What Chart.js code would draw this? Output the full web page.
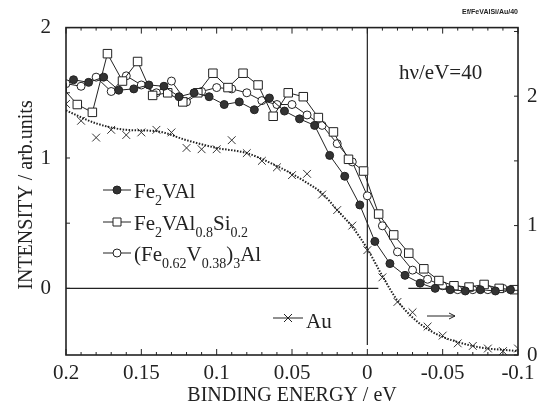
<!DOCTYPE html>
<html>
<head>
<meta charset="utf-8">
<script src="https://cdn.jsdelivr.net/npm/chart.js@4/dist/chart.umd.min.js"></script>
<style>
  html, body { margin: 0; padding: 0; background: #fff; }
  #wrap { width: 543px; height: 408px; }
</style>
</head>
<body>
<div id="wrap"><canvas id="pes"></canvas></div>
<script>
// Energias (eV) e intensidades de cada amostra
const energyFe2VAl = [0.195, 0.185, 0.175, 0.165, 0.155, 0.145, 0.135, 0.125, 0.115, 0.105,
  0.095, 0.085, 0.075, 0.065, 0.055, 0.045, 0.035, 0.025, 0.015, 0.005,
  -0.005, -0.015, -0.025, -0.035, -0.045, -0.055, -0.065, -0.075, -0.085, -0.095];
const intensityFe2VAl = [1.60, 1.58, 1.62, 1.52, 1.53, 1.56, 1.55, 1.47, 1.50, 1.47,
  1.41, 1.43, 1.37, 1.46, 1.36, 1.30, 1.25, 1.02, 0.86, 0.64,
  0.36, 0.19, 0.10, 0.04, 0.00, -0.01, -0.02, -0.01, -0.02, -0.01];

const energySi = [0.2025, 0.1925, 0.1825, 0.1725, 0.1625, 0.1525, 0.1425, 0.1325, 0.1225, 0.1125,
  0.1025, 0.0925, 0.0825, 0.0725, 0.0625, 0.0525, 0.0425, 0.0325, 0.0225, 0.0125,
  0.0025, -0.0075, -0.0175, -0.0275, -0.0375, -0.0475, -0.0575, -0.0675, -0.0775, -0.0875, -0.0975];
const intensitySi = [1.54, 1.41, 1.35, 1.80, 1.59, 1.74, 1.48, 1.50, 1.43, 1.50,
  1.65, 1.54, 1.65, 1.56, 1.32, 1.50, 1.47, 1.31, 1.20, 0.99,
  0.90, 0.57, 0.41, 0.27, 0.15, 0.06, 0.02, 0.01, 0.03, 0.00, -0.01];

const energyStep = [0.20, 0.19, 0.18, 0.17, 0.16, 0.15, 0.14, 0.13, 0.12, 0.11,
  0.10, 0.09, 0.08, 0.07, 0.06, 0.05, 0.04, 0.03, 0.02, 0.01,
  0.00, -0.01, -0.02, -0.03, -0.04, -0.05, -0.06, -0.07, -0.08, -0.09, -0.10];
const intensityFe3Al = [1.57, 1.55, 1.62, 1.51, 1.63, 1.56, 1.50, 1.59, 1.43, 1.51,
  1.54, 1.53, 1.50, 1.44, 1.41, 1.41, 1.33, 1.25, 1.11, 0.97,
  0.71, 0.48, 0.28, 0.14, 0.07, 0.02, -0.01, -0.01, -0.01, 0.00, -0.01];

// Au (eixo da direita): pontos medidos e curva ajustada
const intensityAu = [1.94, 1.81, 1.68, 1.74, 1.70, 1.72, 1.74, 1.72, 1.60, 1.59,
  1.59, 1.66, 1.56, 1.50, 1.45, 1.39, 1.40, 1.24, 1.12, 1.00,
  0.81, 0.60, 0.41, 0.33, 0.22, 0.15, 0.09, 0.07, 0.05, 0.03, 0.05];
const energyAuFit = [0.20, 0.18, 0.16, 0.14, 0.12, 0.10, 0.08, 0.06, 0.05, 0.04, 0.03, 0.02,
  0.01, 0.00, -0.01, -0.02, -0.03, -0.04, -0.05, -0.06, -0.07, -0.08, -0.09, -0.10];
const intensityAuFit = [1.89, 1.79, 1.74, 1.73, 1.66, 1.60, 1.56, 1.46, 1.40, 1.33, 1.25, 1.12,
  0.99, 0.82, 0.61, 0.42, 0.29, 0.20, 0.14, 0.10, 0.07, 0.05, 0.04, 0.03];

// Rótulos dos eixos
const xTicks = [0.2, 0.15, 0.1, 0.05, 0, -0.05, -0.1];
const xTickLabels = ['0.2', '0.15', '0.1', '0.05', '0', '-0.05', '-0.1'];
const leftTicks = [0, 1, 2];
const rightTicks = [0, 1, 2];

const INK = '#222';
const SERIF = '"Liberation Serif", "DejaVu Serif", serif';

function pts(xs, ys) {
  return xs.map((x, i) => ({ x: x, y: ys[i] }));
}

// Texto com índices (subscritos)
function drawFormula(ctx, parts, x, y) {
  ctx.textAlign = 'left';
  ctx.textBaseline = 'alphabetic';
  parts.forEach(([txt, sub]) => {
    ctx.font = (sub ? '14px ' : '21px ') + SERIF;
    ctx.fillText(txt, x, sub ? y + 7 : y);
    x += ctx.measureText(txt).width;
  });
}

function marker(ctx, kind, x, y) {
  ctx.lineWidth = 1;
  ctx.strokeStyle = INK;
  ctx.beginPath();
  if (kind === 'filled') {
    ctx.arc(x, y, 4, 0, Math.PI * 2);
    ctx.fillStyle = '#333';
    ctx.fill();
  } else if (kind === 'square') {
    ctx.rect(x - 4, y - 4, 8, 8);
    ctx.fillStyle = '#fff';
    ctx.fill();
  } else if (kind === 'open') {
    ctx.arc(x, y, 4, 0, Math.PI * 2);
    ctx.fillStyle = '#fff';
    ctx.fill();
  } else if (kind === 'cross') {
    ctx.moveTo(x - 4, y - 4); ctx.lineTo(x + 4, y + 4);
    ctx.moveTo(x + 4, y - 4); ctx.lineTo(x - 4, y + 4);
  }
  ctx.stroke();
}

// Linhas de referência, moldura, marcas e anotações
const decor = {
  id: 'decor',
  beforeDatasetsDraw(chart) {
    const { ctx, chartArea: a, scales } = chart;
    const x0 = scales.x.getPixelForValue(0);
    const y0 = scales.y.getPixelForValue(0);
    ctx.save();
    ctx.strokeStyle = INK;
    ctx.lineWidth = 1.2;
    ctx.beginPath();
    ctx.moveTo(x0, a.top); ctx.lineTo(x0, a.bottom - 10);
    ctx.moveTo(a.left, y0); ctx.lineTo(x0 + 11, y0);
    ctx.moveTo(x0 + 41, y0); ctx.lineTo(a.right, y0);
    ctx.stroke();
    ctx.restore();
  },
  afterDraw(chart) {
    const { ctx, chartArea: a, scales } = chart;
    ctx.save();
    ctx.strokeStyle = INK;
    ctx.lineWidth = 1.6;
    ctx.strokeRect(a.left, a.top, a.right - a.left, a.bottom - a.top);

    // marcas internas
    ctx.lineWidth = 1;
    ctx.beginPath();
    for (let i = -10; i <= 20; i++) {
      const px = scales.x.getPixelForValue(i / 100);
      const len = i % 5 === 0 ? 6 : 3;
      ctx.moveTo(px, a.bottom); ctx.lineTo(px, a.bottom - len);
      ctx.moveTo(px, a.top); ctx.lineTo(px, a.top + len);
    }
    for (let v = 0; v <= 2; v += 0.5) {
      const py = scales.y.getPixelForValue(v);
      ctx.moveTo(a.left, py); ctx.lineTo(a.left + 4, py);
    }
    for (let v = 0; v <= 2.5; v += 0.5) {
      const py = scales.y2.getPixelForValue(v);
      ctx.moveTo(a.right, py); ctx.lineTo(a.right - 4, py);
    }
    ctx.stroke();

    // título do eixo vertical
    ctx.fillStyle = INK;
    ctx.save();
    ctx.translate(27, 195);
    ctx.rotate(-Math.PI / 2);
    ctx.font = '20px ' + SERIF;
    ctx.textAlign = 'center';
    ctx.textBaseline = 'middle';
    ctx.fillText('INTENSITY / arb.units', 0, 0);
    ctx.restore();

    // legenda
    const rows = [
      { kind: 'filled', y: 190, parts: [['Fe'], ['2', 1], ['VAl']] },
      { kind: 'square', y: 222, parts: [['Fe'], ['2', 1], ['VAl'], ['0.8', 1], ['Si'], ['0.2', 1]] },
      { kind: 'open', y: 253, parts: [['(Fe'], ['0.62', 1], ['V'], ['0.38', 1], [')'], ['3', 1], ['Al']] }
    ];
    rows.forEach(r => {
      ctx.strokeStyle = INK;
      ctx.beginPath();
      ctx.moveTo(103, r.y); ctx.lineTo(131, r.y);
      ctx.stroke();
      marker(ctx, r.kind, 117, r.y);
      ctx.fillStyle = INK;
      drawFormula(ctx, r.parts, 134, r.y + 8);
    });

    // Au
    ctx.beginPath();
    ctx.moveTo(273, 318); ctx.lineTo(303, 318);
    ctx.stroke();
    marker(ctx, 'cross', 288, 318);
    ctx.fillStyle = INK;
    drawFormula(ctx, [['Au']], 306, 328);

    // seta para o eixo da direita
    ctx.beginPath();
    ctx.moveTo(427, 316); ctx.lineTo(455, 316);
    ctx.moveTo(449, 313); ctx.lineTo(455, 316); ctx.lineTo(449, 319);
    ctx.stroke();

    ctx.font = '21px ' + SERIF;
    ctx.fillText('h\u03BD/eV=40', 399, 79);

    ctx.font = 'bold 7px "Liberation Sans", sans-serif';
    ctx.textAlign = 'right';
    ctx.fillText('Ef/FeVAlSi/Au/40', 518, 14);
    ctx.restore();
  }
};

const tickFont = { family: SERIF, size: 21 };

new Chart(document.getElementById('pes'), {
  type: 'scatter',
  data: {
    datasets: [
      {
        label: 'Au fit',
        data: pts(energyAuFit, intensityAuFit),
        yAxisID: 'y2',
        showLine: true,
        pointRadius: 0,
        borderColor: '#222',
        borderWidth: 2,
        borderDash: [1.5, 1.5],
        cubicInterpolationMode: 'monotone'
      },
      {
        label: 'Au',
        data: pts(energyStep, intensityAu),
        yAxisID: 'y2',
        pointStyle: 'crossRot',
        pointRadius: 5.5,
        borderColor: '#333',
        borderWidth: 1
      },
      {
        label: 'Fe2VAl',
        data: pts(energyFe2VAl, intensityFe2VAl),
        showLine: true,
        pointRadius: 4,
        pointBackgroundColor: '#333',
        borderColor: INK,
        borderWidth: 1
      },
      {
        label: 'Fe2VAl0.8Si0.2',
        data: pts(energySi, intensitySi),
        showLine: true,
        pointStyle: 'rect',
        pointRadius: 6,
        pointBackgroundColor: '#fff',
        borderColor: INK,
        borderWidth: 1
      },
      {
        label: '(Fe0.62V0.38)3Al',
        data: pts(energyStep, intensityFe3Al),
        showLine: true,
        pointRadius: 4,
        pointBackgroundColor: '#fff',
        borderColor: INK,
        borderWidth: 1
      }
    ]
  },
  options: {
    responsive: true,
    maintainAspectRatio: false,
    animation: false,
    layout: { padding: { top: 17 } },
    plugins: { legend: { display: false }, tooltip: { enabled: false } },
    scales: {
      x: {
        type: 'linear',
        reverse: true,
        min: -0.1,
        max: 0.2,
        grid: { display: false, drawTicks: false },
        border: { display: false },
        afterBuildTicks: s => { s.ticks = xTicks.map(v => ({ value: v })); },
        afterFit: s => { s.height = 53; },
        ticks: {
          color: INK, font: tickFont, padding: 6, maxRotation: 0, autoSkip: false,
          callback: (v, i) => xTickLabels[i]
        },
        title: {
          display: true, text: 'BINDING ENERGY / eV', color: INK,
          font: { family: SERIF, size: 20 }, padding: { top: 0, bottom: 0 }
        }
      },
      y: {
        position: 'left',
        min: -0.511,
        max: 2.0,
        grid: { display: false, drawTicks: false },
        border: { display: false },
        afterBuildTicks: s => { s.ticks = leftTicks.map(v => ({ value: v })); },
        afterFit: s => { s.width = 66; },
        ticks: { color: INK, font: tickFont, padding: 15, callback: v => String(v) }
      },
      y2: {
        position: 'right',
        min: 0,
        max: 2.53,
        grid: { display: false, drawTicks: false },
        border: { display: false },
        afterBuildTicks: s => { s.ticks = rightTicks.map(v => ({ value: v })); },
        afterFit: s => { s.width = 25; },
        ticks: { color: INK, font: tickFont, padding: 9, callback: v => String(v) }
      }
    }
  },
  plugins: [decor]
});
</script>
</body>
</html>
